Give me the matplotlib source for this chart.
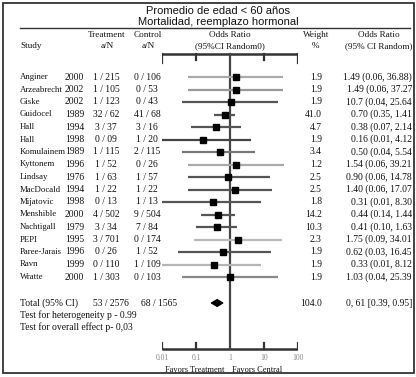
import numpy as np
import matplotlib
matplotlib.use("Agg")
import matplotlib.pyplot as plt
from matplotlib.patches import Rectangle, Polygon

# -----------------------------
# Datos
# -----------------------------
studies = ["Anginer", "Arzeabrecht", "Giske", "Guidocel", "Hall", "Hall",
           "Komulainem", "Kyttonem", "Lindsay", "MacDocald", "Mijatovic",
           "Menshible", "Nachtigall", "PEPI", "Paree-Jarais", "Ravn", "Wratte"]
years = ["2000", "2002", "2002", "1989", "1994", "1998", "1989", "1996", "1976",
         "1994", "1998", "2000", "1979", "1995", "1996", "1999", "2000"]
treat = ["1 / 215", "1 / 105", "1 / 123", "32 / 62", "3 / 37", "0 / 09", "1 / 115",
         "1 / 52", "1 / 63", "1 / 22", "0 / 13", "4 / 502", "3 / 34", "3 / 701",
         "0 / 26", "0 / 110", "1 / 303"]
control = ["0 / 106", "0 / 53", "0 / 43", "41 / 68", "3 / 16", "1 / 20", "2 / 115",
           "0 / 26", "1 / 57", "1 / 22", "1 / 13", "9 / 504", "7 / 84", "0 / 174",
           "1 / 52", "1 / 109", "0 / 103"]
weights = ["1.9", "1.9", "1.9", "41.0", "4.7", "1.9", "3.4", "1.2", "2.5", "2.5",
           "1.8", "14.2", "10.3", "2.3", "1.9", "1.9", "1.9"]
or_text = ["1.49 (0.06, 36.88)", "1.49 (0.06, 37.27", "10.7 (0.04, 25.64",
           "0.70 (0.35, 1.41", "0.38 (0.07, 2.14", "0.16 (0.01, 4.12",
           "0.50 (0.04, 5.54", "1.54 (0.06, 39.21", "0.90 (0.06, 14.78",
           "1.40 (0.06, 17.07", "0.31 (0.01, 8.30", "0.44 (0.14, 1.44",
           "0.41 (0.10, 1.63", "1.75 (0.09, 34.01", "0.62 (0.03, 16.45",
           "0.33 (0.01, 8.12", "1.03 (0.04, 25.39"]
odds = [1.49, 1.49, 1.07, 0.70, 0.38, 0.16, 0.50, 1.54, 0.90, 1.40, 0.31, 0.44,
        0.41, 1.75, 0.62, 0.33, 1.03]
ci_lo = [0.06, 0.06, 0.04, 0.35, 0.07, 0.01, 0.04, 0.06, 0.06, 0.06, 0.01, 0.14,
         0.10, 0.09, 0.03, 0.01, 0.04]
ci_hi = [36.88, 37.27, 25.64, 1.41, 2.14, 4.12, 5.54, 39.21, 14.78, 17.07, 8.30,
         1.44, 1.63, 34.01, 16.45, 8.12, 25.39]
bar_col = ["#aaaaaa", "#999999", "#555555", "#555555", "#555555", "#444444",
           "#777777", "#aaaaaa", "#555555", "#555555", "#555555", "#555555",
           "#555555", "#bbbbbb", "#555555", "#b5b5b5", "#888888"]

# diamante del total (como aparece dibujado)
pooled = (0.28, 0.42, 0.62)

axis_ticks = [0.01, 0.1, 1, 10, 100]
tick_labels = ["0.01", "0.1", "1", "10", "100"]

# -----------------------------
# Figura
# -----------------------------
W, H = 416, 377
fig = plt.figure(figsize=(W / 100, H / 100), dpi=100)
fig.patch.set_facecolor("white")

ax = fig.add_axes([0, 0, 1, 1])
ax.set_xlim(0, W)
ax.set_ylim(H, 0)
ax.axis("off")

serif = "Liberation Serif"
fs = 6.9

ax.add_patch(Rectangle((3, 3), 411, 370, fill=False, lw=1.2, ec="#222222"))

ax.text(218, 11, "Promedio de edad < 60 años", ha="center", va="center",
        fontsize=8, family="Liberation Sans", color="#111111")
ax.text(218, 22, "Mortalidad, reemplazo hormonal", ha="center", va="center",
        fontsize=8, family="Liberation Sans", color="#111111")
ax.plot([20, 410], [28, 28], color="#333333", lw=1)

hdr = dict(fontsize=6.6, family=serif, color="#111111", va="center")
ax.text(20, 46, "Study", ha="left", **hdr)
ax.text(107, 35, "Treatment", ha="center", **hdr)
ax.text(107, 46, "a/N", ha="center", **hdr)
ax.text(148, 35, "Control", ha="center", **hdr)
ax.text(148, 46, "a/N", ha="center", **hdr)
ax.text(230, 35, "Odds Ratio", ha="center", **hdr)
ax.text(230, 46, "(95%CI Random0)", ha="center", **hdr)
ax.text(316, 35, "Weight", ha="center", **hdr)
ax.text(316, 46, "%", ha="center", **hdr)
ax.text(379, 35, "Odds Ratio", ha="center", **hdr)
ax.text(379, 46, "(95% CI Random)", ha="center", **hdr)

row_y = 77 + 12.5 * np.arange(len(studies))
txt = dict(fontsize=fs, family=serif, color="#111111", va="center")
for i, y in enumerate(row_y):
    ax.text(20, y, studies[i], ha="left", fontsize=6.3, family=serif,
            color="#111111", va="center")
    ax.text(65, y, years[i], ha="left", **txt)
    ax.text(106, y, treat[i], ha="center", **txt)
    ax.text(147, y, control[i], ha="center", **txt)
    ax.text(322, y, weights[i], ha="right", **txt)
    ax.text(412, y, or_text[i], ha="right", **txt)

ty = 303
ax.text(20, ty, "Total (95% CI)", ha="left", **txt)
ax.text(111, ty, "53 / 2576", ha="center", **txt)
ax.text(159, ty, "68 / 1565", ha="center", **txt)
ax.text(322, ty, "104.0", ha="right", **txt)
ax.text(412, ty, "0, 61 [0.39, 0.95]", ha="right", **txt)
ax.text(20, 315, "Test for heterogeneity p - 0.99", ha="left", **txt)
ax.text(20, 327, "Test for overall effect p- 0,03", ha="left", **txt)

# -----------------------------
# Forest plot (escala log)
# -----------------------------
x0, x1 = 162, 298
fx = fig.add_axes([x0 / W, 0, (x1 - x0) / W, 1])
fx.set_xscale("log")
fx.set_xlim(0.01, 100)
fx.set_ylim(H, 0)
fx.axis("off")
fx.patch.set_alpha(0)

dark = "#333333"
# corchete superior
fx.plot([0.01, 100], [54, 54], color=dark, lw=1.8, solid_capstyle="butt")
for t in axis_ticks:
    if t == 1:
        continue
    bottom = 63 if t in (0.01, 100) else 60
    fx.plot([t, t], [54, bottom], color=dark, lw=1.6)
# eje inferior
fx.plot([0.01, 100], [349, 349], color=dark, lw=1.8, solid_capstyle="butt")
for t in axis_ticks:
    if t == 1:
        continue
    fx.plot([t, t], [349, 343], color=dark, lw=1.6)
# linea de no efecto
fx.plot([1, 1], [54, 349], color="#444444", lw=1.6)

for t, lab in zip(axis_ticks, tick_labels):
    fx.text(t, 358, lab, ha="center", va="center", fontsize=5.5,
            family=serif, color="#888888")

for i, y in enumerate(row_y):
    fx.plot([ci_lo[i], ci_hi[i]], [y, y], color=bar_col[i], lw=1.6,
            solid_capstyle="butt")
    fx.plot(odds[i], y, marker="s", ms=5, color="black", mec="black")

lo, mid, hi = pooled
fx.add_patch(Polygon([(lo, ty), (mid, ty - 3.5), (hi, ty), (mid, ty + 3.5)],
                     closed=True, fc="black", ec="black", lw=0.8))

ax.text(195, 370, "Favors Treatment", ha="center", va="center", fontsize=6,
        family=serif, color="#111111")
ax.text(257, 370, "Favors Central", ha="center", va="center", fontsize=6,
        family=serif, color="#111111")

fig.savefig("out.png", dpi=100)
